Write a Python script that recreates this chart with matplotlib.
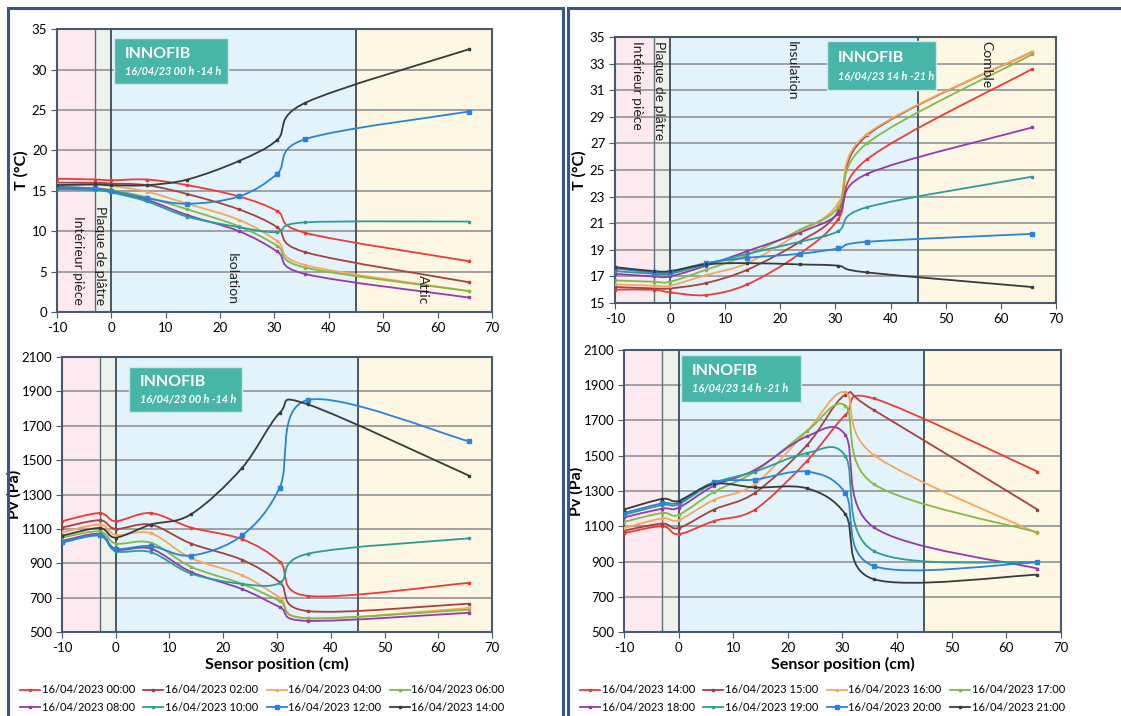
import matplotlib.pyplot as plt
import numpy as np
from matplotlib.path import Path
from matplotlib.patches import PathPatch, Rectangle
from matplotlib.lines import Line2D

plt.rcParams['font.family'] = ['Lato', 'DejaVu Sans']
plt.rcParams['axes.unicode_minus'] = False

# sensor positions (cm)
pos = [-10, -3, 0, 6.5, 14, 23.5, 30.5, 35.7, 65.7]

# 16/04/23 00h - 14h
labels_a = ['16/04/2023 00:00', '16/04/2023 02:00', '16/04/2023 04:00', '16/04/2023 06:00',
            '16/04/2023 08:00', '16/04/2023 10:00', '16/04/2023 12:00', '16/04/2023 14:00']
T_a = [
    [16.5, 16.4, 16.3, 16.4, 15.7, 14.3, 12.5, 9.8, 6.3],
    [16.0, 16.0, 15.9, 15.7, 14.6, 12.7, 10.5, 7.4, 3.7],
    [15.8, 15.7, 15.6, 14.9, 13.4, 11.4, 8.8, 5.8, 2.6],
    [15.5, 15.3, 15.1, 14.2, 12.7, 10.6, 8.2, 5.5, 2.6],
    [15.3, 15.2, 14.9, 13.9, 12.0, 10.0, 7.5, 4.7, 1.8],
    [15.2, 15.1, 14.8, 13.7, 11.8, 10.5, 9.9, 11.1, 11.2],
    [15.5, 15.3, 15.0, 14.1, 13.4, 14.3, 17.1, 21.4, 24.8],
    [15.7, 15.8, 15.7, 15.7, 16.4, 18.7, 21.3, 25.9, 32.5],
]
Pv_a = [
    [1145, 1192, 1145, 1192, 1108, 1040, 910, 710, 786],
    [1108, 1150, 1100, 1125, 1015, 920, 790, 622, 665],
    [1080, 1125, 1065, 1075, 930, 830, 700, 580, 640],
    [1050, 1085, 1015, 1020, 880, 780, 680, 580, 630],
    [1030, 1070, 980, 985, 850, 750, 645, 565, 612],
    [1020, 1060, 970, 965, 840, 780, 785, 955, 1045],
    [1025, 1065, 985, 1000, 945, 1062, 1340, 1850, 1610],
    [1060, 1105, 1050, 1125, 1185, 1455, 1775, 1825, 1410],
]

# 16/04/23 14h - 21h
labels_b = ['16/04/2023 14:00', '16/04/2023 15:00', '16/04/2023 16:00', '16/04/2023 17:00',
            '16/04/2023 18:00', '16/04/2023 19:00', '16/04/2023 20:00', '16/04/2023 21:00']
T_b = [
    [16.0, 16.0, 15.8, 15.6, 16.4, 18.7, 21.3, 25.8, 32.6],
    [16.2, 16.1, 16.1, 16.5, 17.5, 19.6, 21.9, 27.6, 33.9],
    [16.4, 16.3, 16.3, 17.1, 18.0, 20.3, 22.5, 27.7, 33.9],
    [16.7, 16.6, 16.6, 17.5, 18.6, 20.5, 22.2, 27.0, 33.7],
    [17.2, 17.0, 17.0, 17.8, 18.9, 20.3, 21.7, 24.7, 28.2],
    [17.4, 17.2, 17.2, 17.9, 18.7, 19.6, 20.4, 22.2, 24.5],
    [17.6, 17.3, 17.3, 18.0, 18.4, 18.7, 19.1, 19.6, 20.2],
    [17.7, 17.4, 17.4, 17.9, 18.0, 17.9, 17.8, 17.3, 16.2],
]
Pv_b = [
    [1061, 1100, 1055, 1130, 1195, 1470, 1730, 1825, 1410],
    [1075, 1115, 1090, 1195, 1290, 1560, 1845, 1760, 1195],
    [1090, 1145, 1135, 1250, 1340, 1640, 1860, 1505, 1060],
    [1125, 1175, 1165, 1295, 1410, 1640, 1785, 1340, 1065],
    [1150, 1200, 1205, 1330, 1420, 1610, 1620, 1095, 860],
    [1165, 1220, 1225, 1345, 1410, 1515, 1500, 960, 895],
    [1175, 1230, 1235, 1350, 1365, 1410, 1290, 875, 895],
    [1195, 1255, 1245, 1340, 1320, 1315, 1170, 800, 825],
]

colors = ['#ee3b37', '#a9403d', '#f5a85c', '#86b844', '#943aac', '#2c9c96', '#2b82d6', '#3a3a3a']


def smooth_path(x, y):
    # Excel-like smoothed line (Catmull-Rom as cubic Bezier)
    p = np.column_stack([x, y]).astype(float)
    n = len(p)
    verts = [p[0]]
    codes = [Path.MOVETO]
    for i in range(n - 1):
        p0 = p[max(i - 1, 0)]
        p1 = p[i]
        p2 = p[i + 1]
        p3 = p[min(i + 2, n - 1)]
        verts += [p1 + (p2 - p0) / 6, p2 - (p3 - p1) / 6, p2]
        codes += [Path.CURVE4] * 3
    return Path(verts, codes)


def setup(ax, ylim, yticks):
    ax.axvspan(-10, -3, color='#fdeaf1', zorder=0)
    ax.axvspan(-3, 0, color='#edf2ec', zorder=0)
    ax.axvspan(0, 45, color='#e2f3fb', zorder=0)
    ax.axvspan(45, 70, color='#fef7e4', zorder=0)
    ax.set_xlim(-10, 70)
    ax.set_ylim(*ylim)
    ax.set_xticks(range(-10, 71, 10))
    ax.set_yticks(yticks)
    ax.grid(axis='y', color='#9a9a9a', lw=1.3, zorder=1)
    ax.set_axisbelow(True)
    ax.axvline(-3, color='#5f6f78', lw=1.0, zorder=2)
    ax.axvline(0, color='#3b4b5b', lw=1.3, zorder=2)
    ax.axvline(45, color='#3b4b5b', lw=1.3, zorder=2)
    for s in ax.spines.values():
        s.set_color('#4a5a6a')
        s.set_linewidth(1.5)
    ax.tick_params(labelsize=9.5, length=4, pad=3, color='#4a5a6a')


def draw(ax, data):
    for i, vals in enumerate(data):
        c = colors[i]
        ax.add_patch(PathPatch(smooth_path(pos, vals), fill=False, edgecolor=c, lw=1.3, zorder=3))
        ms = 3.0 if i == 6 else 1.5
        ax.plot(pos, vals, ls='none', marker='s', ms=ms, color=c, zorder=4)


def tag(ax, x0, x1, y0, y1, date):
    ax.add_patch(Rectangle((x0, y0), x1 - x0, y1 - y0, transform=ax.transAxes,
                           facecolor='#47b6a8', edgecolor='#cfe9e5', lw=1, zorder=5))
    h = y1 - y0
    ax.text(x0 + 0.025, y0 + 0.66 * h, 'INNOFIB', transform=ax.transAxes, color='white',
            fontsize=11.5, fontweight='bold', va='center', zorder=6)
    ax.text(x0 + 0.025, y0 + 0.28 * h, date, transform=ax.transAxes, color='white',
            fontsize=7.8, fontweight='bold', style='italic', va='center', zorder=6)


fig = plt.figure(figsize=(11.21, 7.16), dpi=100)

ax1 = fig.add_axes([0.0508, 0.5642, 0.388, 0.395])
ax2 = fig.add_axes([0.0553, 0.1173, 0.3836, 0.384])
ax3 = fig.add_axes([0.5486, 0.5768, 0.3934, 0.3715])
ax4 = fig.add_axes([0.5566, 0.1173, 0.3898, 0.3939])

setup(ax1, (0, 35), range(0, 36, 5))
setup(ax2, (500, 2100), range(500, 2101, 200))
setup(ax3, (15, 35), range(15, 36, 2))
setup(ax4, (500, 2100), range(500, 2101, 200))

draw(ax1, T_a)
draw(ax2, Pv_a)
draw(ax3, T_b)
draw(ax4, Pv_b)

for ax in (ax1, ax3):
    ax.set_ylabel('T (°C)', fontsize=11.5, fontweight='bold', labelpad=2)
for ax in (ax2, ax4):
    ax.set_ylabel('Pv (Pa)', fontsize=11.5, fontweight='bold', labelpad=0)
    ax.set_xlabel('Sensor position (cm)', fontsize=11.5, fontweight='bold', labelpad=2)

tag(ax1, 0.131, 0.393, 0.806, 0.968, '16/04/23 00 h -14 h')
tag(ax2, 0.156, 0.419, 0.800, 0.964, '16/04/23 00 h -14 h')
tag(ax3, 0.481, 0.728, 0.800, 0.985, '16/04/23 14 h -21 h')
tag(ax4, 0.130, 0.405, 0.816, 0.982, '16/04/23 14 h -21 h')

# zone labels
zkw = dict(rotation=-90, ha='center', fontsize=10, color='#222222', zorder=6)
for x, s in [(-6.1, 'Intérieur pièce'), (-2.0, 'Plaque de plâtre'), (22.2, 'Isolation'), (57.3, 'Attic')]:
    ax1.text(x, 0.9, s, va='bottom', **zkw)
for x, s in [(-6.0, 'Intérieur pièce'), (-2.0, 'Plaque de plâtre'), (22.1, 'Insulation'), (57.3, 'Comble')]:
    ax3.text(x, 34.7, s, va='top', **zkw)

# legends (row-wise order)
order = [0, 4, 1, 5, 2, 6, 3, 7]
for labels, x0 in [(labels_a, 20 / 1121), (labels_b, 580 / 1121)]:
    handles = [Line2D([], [], color=colors[i], lw=1.3, marker='s', ms=3.0 if i == 6 else 1.5) for i in order]
    fig.legend(handles, [labels[i] for i in order], loc='upper left', bbox_to_anchor=(x0, 0.044),
               ncol=4, frameon=False, fontsize=8, handlelength=1.8, handletextpad=0.15,
               columnspacing=0.75, labelspacing=0.55, borderpad=0, borderaxespad=0)

# panel frames
for x0, x1 in [(8, 563), (568, 1125)]:
    fig.patches.append(Rectangle((x0 / 1121, -0.01), (x1 - x0) / 1121, 1 - 8 / 716 + 0.01,
                                 transform=fig.transFigure, fill=False, edgecolor='#34558f', lw=2.2))

fig.savefig('out.png', dpi=100)
